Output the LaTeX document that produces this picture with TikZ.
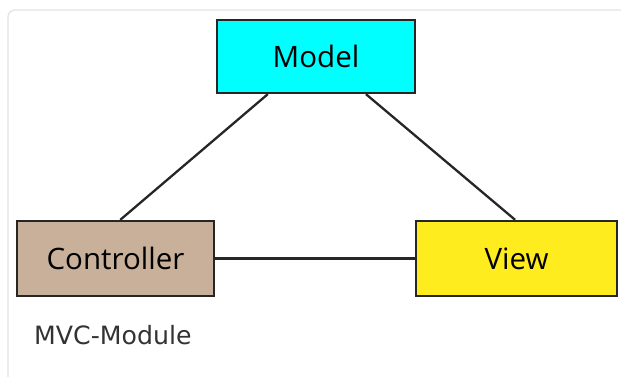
\documentclass[tikz,border=0pt]{standalone}
\usepackage{fontspec}
\setmainfont{Open Sans}
\newfontfamily\captionfont{DejaVu Sans}
\usetikzlibrary{positioning, calc}

\definecolor{modelcyan}{RGB}{0,255,255}
\definecolor{ctrltan}{RGB}{200,176,154}
\definecolor{viewyellow}{RGB}{255,236,30}
\definecolor{cardgray}{RGB}{228,228,228}

\begin{document}
\begin{tikzpicture}[
      x=1pt, y=1pt,
      part/.style={rectangle, draw=black!85, line width=2.3pt, align=center, font=\fontsize{29.5}{33}\selectfont, inner sep=0pt},
      link/.style={line width=2.3pt, draw=black!85}
    ]
    \useasboundingbox (0,0) rectangle (621,376);

    % card behind the figure
    \draw[cardgray, line width=1.4pt, rounded corners=7pt] (8,-20) rectangle (640,366);

    \node[part, fill=modelcyan, minimum width=198pt, minimum height=73pt] (model) at (316,319.5) {Model};
    \node[part, fill=ctrltan, minimum width=197pt, minimum height=75pt] (ctrl) at (115.5,117.5) {Controller};
    \node[part, fill=viewyellow, minimum width=201pt, minimum height=75pt] (view) at (516.5,117.5) {View};

    \draw[link] (model.218) -- (ctrl.83);
    \draw[link] (model.-37) -- (view.92);
    \draw[link] (ctrl.east) -- (view.west);

    \node[anchor=west, inner sep=0pt, text=black!80, font=\captionfont\fontsize{25.2}{29}\selectfont] (caption) at (34,41) {MVC-Module};
  \end{tikzpicture}
\end{document}
